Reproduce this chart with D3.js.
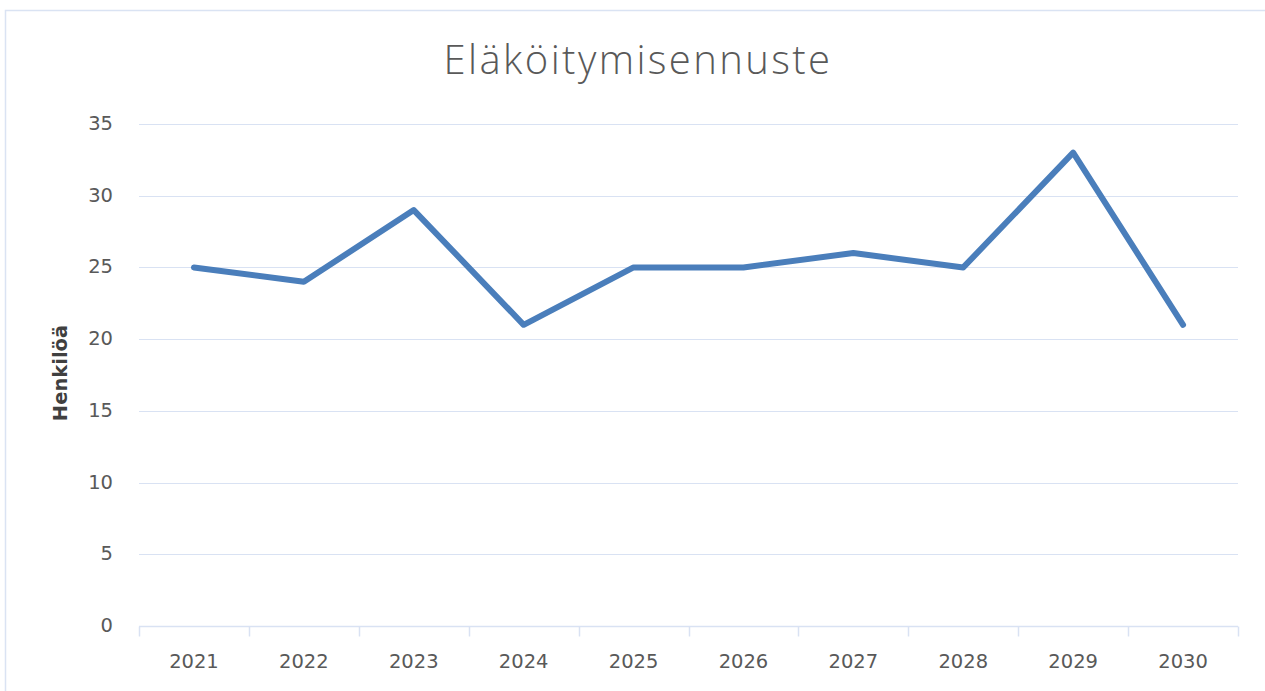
<!DOCTYPE html>
<html>
<head>
<meta charset="utf-8">
<script src="https://cdn.jsdelivr.net/npm/d3@7"></script>
<style>
  body { margin: 0; background: #fff; }
  #chart { width: 1265px; height: 691px; }
  .tick-label { font-family: "DejaVu Sans", sans-serif; font-size: 19.5px; fill: #595959; }
  .chart-title { font-family: "Open Sans", "Noto Sans", sans-serif; font-weight: 300; font-size: 40px; letter-spacing: 2.4px; fill: #595959; }
  .axis-title { font-family: "DejaVu Sans", sans-serif; font-weight: bold; font-size: 19.5px; fill: #404040; }
</style>
</head>
<body>
<div id="chart"></div>
<script>
// --- Line chart: Eläköitymisennuste (retirement forecast) ---

const years = ['2021', '2022', '2023', '2024', '2025', '2026', '2027', '2028', '2029', '2030'];
const retirees = [25, 24, 29, 21, 25, 25, 26, 25, 33, 21];
const yTicks = [0, 5, 10, 15, 20, 25, 30, 35];

const svg = d3.select('#chart').append('svg')
  .attr('width', 1265)
  .attr('height', 691);

// chart frame
svg.append('rect')
  .attr('x', 5.5).attr('y', 10.5)
  .attr('width', 1300).attr('height', 700)
  .attr('fill', 'none')
  .attr('stroke', '#dae3f3')
  .attr('stroke-width', 1.5);

const margin = { left: 139, right: 1238, top: 124, bottom: 626 };

const xScale = d3.scaleBand()
  .domain(years)
  .range([margin.left, margin.right]);

const yScale = d3.scaleLinear()
  .domain([0, 35])
  .range([margin.bottom, margin.top]);

// horizontal grid lines
svg.append('g')
  .selectAll('line')
  .data(yTicks.filter(d => d > 0))
  .join('line')
  .attr('x1', margin.left).attr('x2', margin.right)
  .attr('y1', d => Math.round(yScale(d)) + 0.5)
  .attr('y2', d => Math.round(yScale(d)) + 0.5)
  .attr('stroke', '#d9e2f3')
  .attr('stroke-width', 1.2);

// x axis with Excel-style tick marks between categories
const xAxis = svg.append('g')
  .attr('transform', `translate(0,${Math.round(margin.bottom) + 0.5})`)
  .call(d3.axisBottom(xScale).tickSize(0).tickPadding(0));
xAxis.select('.domain').remove();
xAxis.selectAll('.tick text').remove();

xAxis.append('line')
  .attr('x1', margin.left).attr('x2', margin.right)
  .attr('stroke', '#d9e2f3').attr('stroke-width', 1.5);

const boundaries = years.map(y => xScale(y)).concat([margin.right]);
xAxis.selectAll('.sep')
  .data(boundaries)
  .join('line')
  .attr('class', 'sep')
  .attr('x1', d => Math.round(d) + 0.5).attr('x2', d => Math.round(d) + 0.5)
  .attr('y1', 0).attr('y2', 10)
  .attr('stroke', '#d9e2f3').attr('stroke-width', 1.5);

svg.append('g')
  .selectAll('text')
  .data(years)
  .join('text')
  .attr('class', 'tick-label')
  .attr('x', d => xScale(d) + xScale.bandwidth() / 2)
  .attr('y', 668)
  .attr('text-anchor', 'middle')
  .text(d => d);

// y tick labels
svg.append('g')
  .selectAll('text')
  .data(yTicks)
  .join('text')
  .attr('class', 'tick-label')
  .attr('x', 113)
  .attr('y', d => yScale(d) + 6)
  .attr('text-anchor', 'end')
  .text(d => d);

// y axis title
svg.append('text')
  .attr('class', 'axis-title')
  .attr('transform', 'rotate(-90)')
  .attr('x', -373)
  .attr('y', 67)
  .attr('text-anchor', 'middle')
  .text('Henkilöä');

// title
svg.append('text')
  .attr('class', 'chart-title')
  .attr('x', 638)
  .attr('y', 74)
  .attr('text-anchor', 'middle')
  .text('Eläköitymisennuste');

// data line
const lineGen = d3.line()
  .x((d, i) => xScale(years[i]) + xScale.bandwidth() / 2)
  .y(d => yScale(d));

svg.append('path')
  .datum(retirees)
  .attr('d', lineGen)
  .attr('fill', 'none')
  .attr('stroke', '#4a7ebb')
  .attr('stroke-width', 6)
  .attr('stroke-linejoin', 'round')
  .attr('stroke-linecap', 'round');
</script>
</body>
</html>
